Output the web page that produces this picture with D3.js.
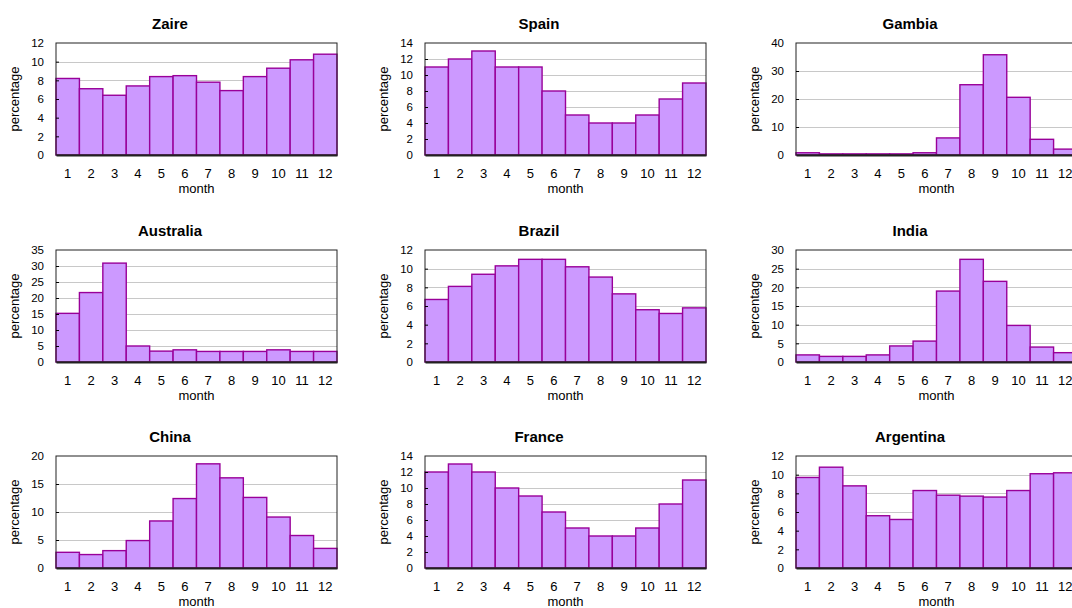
<!DOCTYPE html>
<html>
<head>
<meta charset="utf-8">
<script src="https://cdn.jsdelivr.net/npm/d3@7"></script>
<style>
  html, body { margin: 0; padding: 0; background: #fff; }
  svg { display: block; }
</style>
</head>
<body>
<svg width="1072" height="608"></svg>
<script>
const months = [1, 2, 3, 4, 5, 6, 7, 8, 9, 10, 11, 12]
const countries = ['Zaire', 'Spain', 'Gambia', 'Australia', 'Brazil', 'India', 'China', 'France', 'Argentina']

const zaire = [8.2, 7.1, 6.4, 7.4, 8.4, 8.5, 7.8, 6.9, 8.4, 9.3, 10.2, 10.8]
const spain = [11, 12, 13, 11, 11, 8, 5, 4, 4, 5, 7, 9]
const gambia = [0.8, 0.4, 0.4, 0.4, 0.4, 0.8, 6.1, 25.1, 35.8, 20.6, 5.6, 2.1]
const australia = [15.2, 21.7, 30.9, 5.0, 3.4, 3.8, 3.3, 3.3, 3.3, 3.8, 3.3, 3.3]
const brazil = [6.7, 8.1, 9.4, 10.3, 11.0, 11.0, 10.2, 9.1, 7.3, 5.6, 5.2, 5.8]
const india = [1.9, 1.5, 1.5, 1.9, 4.3, 5.6, 19.0, 27.5, 21.6, 9.8, 4.0, 2.5]
const china = [2.8, 2.4, 3.1, 4.9, 8.4, 12.4, 18.6, 16.1, 12.6, 9.1, 5.8, 3.5]
const france = [12, 13, 12, 10, 9, 7, 5, 4, 4, 5, 8, 11]
const argentina = [9.7, 10.8, 8.8, 5.6, 5.2, 8.3, 7.8, 7.7, 7.6, 8.3, 10.1, 10.2]

const series = [zaire, spain, gambia, australia, brazil, india, china, france, argentina]

// y axis tick labels per panel
const yTicks = [
  [0, 2, 4, 6, 8, 10, 12],
  [0, 2, 4, 6, 8, 10, 12, 14],
  [0, 10, 20, 30, 40],
  [0, 5, 10, 15, 20, 25, 30, 35],
  [0, 2, 4, 6, 8, 10, 12],
  [0, 5, 10, 15, 20, 25, 30],
  [0, 5, 10, 15, 20],
  [0, 2, 4, 6, 8, 10, 12, 14],
  [0, 2, 4, 6, 8, 10, 12]
]

const font = '"Liberation Sans", Arial, sans-serif'
const svg = d3.select('svg')

const colLeft = [56, 425, 796]
const rowTop = [43, 250, 456]
const innerWidth = 281
const innerHeight = 112

const xScale = d3.scaleBand()
  .domain(months)
  .range([0, innerWidth])
  .padding(0)

const render = (name, values, ticks, i) => {
  const left = colLeft[i % 3]
  const top = rowTop[Math.floor(i / 3)]

  const yScale = d3.scaleLinear()
    .domain([0, d3.max(ticks)])
    .range([innerHeight, 0])

  const g = svg.append('g')
    .attr('transform', `translate(${left}, ${top})`)

  // grid
  g.append('g')
    .selectAll('line').data(ticks.slice(1, -1))
    .enter().append('line')
    .attr('x1', 0)
    .attr('x2', innerWidth)
    .attr('y1', d => Math.round(yScale(d)) + 0.5)
    .attr('y2', d => Math.round(yScale(d)) + 0.5)
    .attr('stroke', '#c8c8c8')

  g.selectAll('rect.bar').data(values)
    .enter().append('rect')
    .attr('class', 'bar')
    .attr('x', (d, j) => xScale(months[j]))
    .attr('y', d => yScale(d))
    .attr('width', xScale.bandwidth())
    .attr('height', d => innerHeight - yScale(d))
    .attr('fill', '#cc99ff')
    .attr('stroke', '#990099')
    .attr('stroke-width', 1.4)

  g.append('rect')
    .attr('x', 0)
    .attr('y', 0)
    .attr('width', innerWidth)
    .attr('height', innerHeight)
    .attr('fill', 'none')
    .attr('stroke', '#222')

  const yAxis = d3.axisLeft(yScale)
    .tickValues(ticks)
    .tickSize(-3)
    .tickPadding(12)

  const yAxisGroup = g.append('g')
    .call(yAxis)
    .attr('font-family', font)
    .attr('font-size', 11.5)
  yAxisGroup.select('.domain').remove()
  yAxisGroup.selectAll('.tick line').attr('stroke', '#000')
  yAxisGroup.selectAll('.tick text').attr('fill', '#000')
  yAxisGroup.selectAll('.tick').filter(d => d === 0 || d === d3.max(ticks)).select('line').remove()

  const xAxis = d3.axisBottom(xScale)
    .tickSize(0)
    .tickPadding(14)

  const xAxisGroup = g.append('g')
    .call(xAxis)
    .attr('transform', `translate(0, ${innerHeight})`)
    .attr('font-family', font)
    .attr('font-size', 13)
  xAxisGroup.selectAll('.tick text').attr('fill', '#000')
  xAxisGroup.select('.domain')
    .attr('stroke', '#222')
    .attr('stroke-width', 2)

  g.append('text')
    .attr('x', innerWidth / 2)
    .attr('y', innerHeight + 38)
    .attr('text-anchor', 'middle')
    .attr('font-family', font)
    .attr('font-size', 13)
    .text('month')

  g.append('text')
    .attr('transform', `translate(-37, ${innerHeight / 2}) rotate(-90)`)
    .attr('text-anchor', 'middle')
    .attr('font-family', font)
    .attr('font-size', 13)
    .text('percentage')

  g.append('text')
    .attr('x', 114)
    .attr('y', -14)
    .attr('text-anchor', 'middle')
    .attr('font-family', font)
    .attr('font-size', 15)
    .attr('font-weight', 'bold')
    .text(name)
}

countries.forEach((c, i) => render(c, series[i], yTicks[i], i))
</script>
</body>
</html>
